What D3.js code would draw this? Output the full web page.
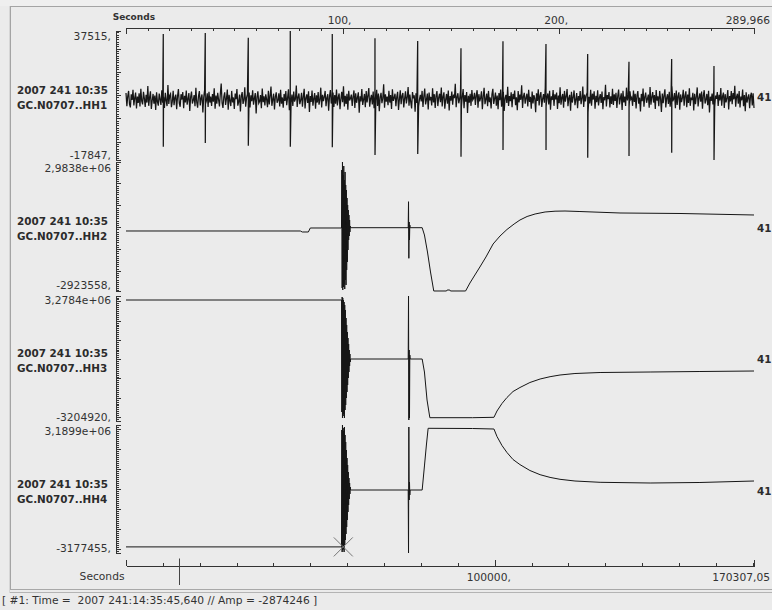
<!DOCTYPE html>
<html><head><meta charset="utf-8">
<script src="https://cdn.jsdelivr.net/npm/d3@7/dist/d3.min.js"></script>
<style>html,body{margin:0;padding:0;background:#ebebeb;}svg{display:block;}</style>
</head><body>
<svg id="chart" width="772" height="610"></svg>
<script>
// ---------------- DATA ----------------
const startLabel = "2007 241 10:35";
const channels = ["GC.N0707..HH1", "GC.N0707..HH2", "GC.N0707..HH3", "GC.N0707..HH4"];
const rightLabels = ["41", "41", "41", "41"];
const ampMax = [37515, 2983800, 3278400, 3189900];
const ampMin = [-17847, -2923558, -3204920, -3177455];
const ampMaxLabels = ["37515,", "2,9838e+06", "3,2784e+06", "3,1899e+06"];
const ampMinLabels = ["-17847,", "-2923558,", "-3204920,", "-3177455,"];
const durationSec = 289.966;
const topTickMajor = [0, 100, 200, 289.966];
const topTickLabels = ["Seconds", "100,", "200,", "289,966"];
const sampleEnd = 170307.05;
const bottomTickMajor = [0, 100000, 170307.05];
const bottomTickLabels = ["Seconds", "100000,", "170307,05"];
const pickMarkSample = 14300;
const cursorTime = 100.33, cursorAmp = -2874246;
const statusText = "[ #1: Time =  2007 241:14:35:45,640 // Amp = -2874246 ]";

// HH1 background noise (counts), evenly spaced over the record
const hh1Noise = [
10900,5200,9600,11800,6100,4700,10300,7900,12300,5600,8800,11100,4300,9400,6600,10800,5100,12700,7400,6000,
11400,8600,4900,10100,6800,13900,5400,9000,11600,4100,7700,10500,6300,9800,3600,11200,7100,5500,10700,8200,
5800,12100,6700,9300,4500,11000,7600,5300,14300,6200,9900,10600,4800,7300,11900,5700,8900,10200,3900,9500,
12600,6500,5000,10400,8100,11300,4400,9700,6900,12000,5900,8400,10900,3200,9200,11500,6400,7800,10000,5200,
13100,7000,4600,9600,11700,5600,8700,10300,2600,9100,12200,6100,7500,10800,4900,11400,6800,9400,5400,10500,
7200,12900,4200,9800,6300,11000,8000,5100,10600,15000,6600,4500,9300,11200,5800,8500,12400,3700,10100,7600,
5300,11800,6900,9000,4100,10700,8300,12600,5500,7100,10200,3000,9600,11300,6200,7900,13400,5000,8800,10400,
6400,11100,4700,9900,7400,12100,5900,8600,10900,2100,9200,11600,6500,7300,10000,4400,12800,7000,9500,5600,
10300,8200,4800,11900,6000,9700,13700,5400,8100,10600,3800,9300,11200,6700,7700,10800,5100,12300,6300,9000,
4600,10500,7500,11700,5700,8900,12500,3500,9800,6900,10200,5300,11500,7200,8400,14100,4900,9100,10700,6100,
7800,11000,5000,9400,12700,4300,8700,10300,6600,11600,2800,9600,7100,12000,5500,8500,10900,4200,9900,6800,
11300,5900,8000,13200,4700,10100,7400,9200,11800,5200,8800,10400,3300,9500,12200,6400,7600,11100,4900,10000,
6300,12400,5600,9000,10700,4000,8300,11400,7000,13800,5100,9700,6200,10600,3700,11900,7700,8600,10200,5400,
9300,12000,4500,10800,6700,8900,11200,2400,9500,7300,12600,5800,8100,10500,4800,11700,6900,9800,13000,5000,
8400,10100,6000,11500,4400,9600,7800,12300,5300,10700,3100,9100,11000,6500,8700,14600,4600,10300,7200,9400,
5700,11900,6800,10000,4100,12500,7500,8800,10600,5200,9300,11400,3600,8200,12100,6100,9700,10900,4700,8500,
11600,6400,9000,13500,5500,10200,7100,4300,11300,8600,9900,2900,10800,6600,12400,5100,8300,10100,7300,11800,
4900,9500,12800,6000,8000,10700,3800,11100,7700,9200,5600,12900,6900,10400,4500,9800,11700,5300,8900,10600,
7000,13300,5100,9400,11200,4200,8100,10500,6300,12000,3400,9600,7600,11500,5900,10200,8700,14900,4800,9100,
10800,6500,8400,11900,5000,9300,12600,4400,10000,7200,11300,2300,9700,6800,10600,5400,12200,7900,8600,11000,
5800,9900,12100,4600,10400,7300,8800,11600,3900,9500,13100,6100,8200,10700,5200,11800,7000,9000,4300,10300,
12700,6200,8500,11100,5500,9800,4000,10900,7800,12400,5000,9200,11400,3200,8700,10100,6600,13600,5300,9600,
7400,11200,4800,10500,8300,12000,5700,9100,3500,11700,6900,10200,8000,14200,4500,9400,11000,6300,8800,10600,
5100,12300,7100,9300,4200,11500,6400,10000,8600,2700,10800,7500,12500,5600,9700,11300,4900,8400,10400,6700,
13000,5300,9000,10700,6000,11900,3700,9500,7900,12200,5400,10300,8200,11100,4100,9800,6500,13400,5900,8900,
10500,4600,11800,7200,9400,12600,5200,8700,10100,3300,11400,6800,9100,12000,5700,8000,10900,4400,9600,7600,
11700,6100,8500,13700,4900,10200,7300,9900,11200,2500,9300,6400,12300,5500,10600,8100,11600,4200,9700,7000,
12100,5600,8800,10400,6600,11500,3900,9200,7800,14400,5100,10000,8300,11300,4700,9500,6200,12700,5800,10300,
7500,11000,4500,9600,12400,6000,8600,10800,3600,11900,6900,9400,5300,13200,7700,10100,4800,11600,8200,9000,
5400,12000,7100,10600,4300,9800,11700,6300,8900,3000,10500,7400,12800,5000,9300,11100,6700,8400,10200,4600,
13500,5900,9100,11300,6800,10000,4100,12200,7600,9500,5200,11800,8500,2800,10700,6500,9900,12500,4700,8700,
10400,6200,11400,5000,9200,13800,7300,8300,10900,4400,12000,5800,9600,11200,3700,10300,7000,8800,12300,5500,
9700,11600,4800,10200,6600,12900,5400,9000,7900,11000,3400,10600,6100,9400,13300,5100,8600,10800,7200,11500,
4200,9900,12100,6400,8100,10500,5700,11900,2600,9300,7500,10700,6000,12600,4900,9800,8400,11300,5300,10100,
7700,13000,5500,9500,11100,4500,10400,6900,8800,12200,3800,9600,7300,11700,6100,10900,8200,14000,5000,9200,
10600,6300,11800,4700,9400,7800,12400,5200,10000,3100,11200,6800,8900,10300,4400,9700,11000,5600,10800,4500
];
// HH1 periodic spikes: time (s), peak, trough (counts)
const hh1SpikeTime = [17.22, 36.61, 56.47, 75.86, 95.25, 114.97, 134.69, 154.68, 174.07, 193.93, 213.18, 232.25, 251.96, 271.5];
const hh1SpikeTop = [36227, 36657, 34639, 37515, 36227, 34382, 33223, 30090, 33094, 31935, 27643, 24339, 25497, 22493];
const hh1SpikeBottom = [-12143, -10555, -11714, -12143, -12400, -15706, -15277, -16435, -13560, -13560, -16864, -16135, -14719, -17847];

// HH2: [time s, counts]
const hh2 = [
[0,-175900],[80.5,-175900],[81.4,-221700],[84.2,-221700],[85.1,-38500],[99.5,-38500],
[99.65,2617500],[99.8,-2786100],[99.95,2983800],[100.1,-2877700],[100.25,2388500],[100.4,-2740300],
[100.55,2800600],[100.7,-2602900],[100.85,2159500],[101.0,-2831900],[101.15,2525900],[101.3,-2419800],
[101.45,1930600],[101.6,-2648700],[101.75,1701600],[101.9,-1961800],[102.05,1335300],[102.2,-1595500],
[102.35,1014700],[102.5,-1046100],[102.65,785700],[102.8,-588100],[102.95,556800],[103.1,-404900],
[103.25,327800],[103.4,-221700],[103.55,53000],[103.7,-24800],
[130.3,-24800],[130.45,1165800],[130.6,-1426100],[130.75,236200],[130.9,-588100],[131.05,98800],[131.2,-24800],
[136.75,-24800],[137.8,-359100],[139.2,-1137600],[140.6,-2053400],[142.1,-2923500],
[148.0,-2923500],[148.3,-2877700],[149.5,-2877700],[149.8,-2923500],
[156.8,-2923500],[158.8,-2557200],[161.1,-2190800],[163.4,-1824500],[166.2,-1366500],[169.5,-771200],
[172.7,-404900],[175.9,-107200],[179.2,144600],[181.9,327800],[185.2,488100],[188.9,602600],
[193.5,694200],[198.1,730800],[202.7,739900],[209.6,716000],[228.1,648400],[255.8,625500],[289.97,556800]
];
// HH3: [time s, counts]
const hh3 = [
[0,3070900],[99.5,3070900],
[99.65,-2738200],[99.8,3226500],[99.95,-3049400],[100.1,3174700],[100.25,-2945600],[100.4,3070900],
[100.55,-2841900],[100.7,2967200],[100.85,-3049400],[101.0,2811600],[101.15,-2634400],[101.3,2552300],
[101.45,-2375100],[101.6,2137300],[101.75,-2012000],[101.9,1774300],[102.05,-1700800],[102.2,1411200],
[102.35,-1337800],[102.5,1100000],[102.65,-974700],[102.8,788800],[102.95,-663500],[103.1,477600],
[103.25,-352300],[103.4,270100],[103.55,-144800],[103.7,10800],
[130.3,10800],[130.45,3278400],[130.6,-3153100],[130.75,477600],[130.9,-3049400],[131.05,218200],[131.2,10800],
[136.75,10800],[137.8,-663500],[139.0,-2115800],[140.3,-3033800],
[160.0,-3033800],[169.9,-3013100],[171.3,-2686300],[173.6,-2297300],[175.9,-1986100],[178.7,-1674900],
[181.9,-1467400],[186.5,-1208100],[191.2,-1026600],[195.8,-907300],[200.4,-819100],[207.3,-741300],
[218.9,-689400],[242.0,-663500],[265.0,-637600],[289.97,-611600]
];
// HH4: [time s, counts]
const hh4 = [
[0,-2874246],[99.5,-2874246],
[99.65,2941200],[99.8,-3127700],[99.95,3189900],[100.1,-3028200],[100.25,3040700],[100.4,-2978500],
[100.55,2891400],[100.7,-3127700],[100.85,3090400],[101.0,-2779500],[101.15,2692500],[101.3,-2530800],
[101.45,2344200],[101.6,-2232300],[101.75,1946300],[101.9,-1884100],[102.05,1548300],[102.2,-1535900],
[102.35,1200100],[102.5,-1137900],[102.65,851900],[102.8,-789700],[102.95,553400],[103.1,-491200],
[103.25,304700],[103.4,-242500],[103.55,105700],[103.7,-43500],
[130.3,-43500],[130.45,-3177455],[130.6,3090400],[130.75,-541000],[130.9,354400],[131.05,-292300],[131.2,-43500],
[136.75,-43500],[137.8,1151400],[138.7,2195000],[139.5,3025700],
[160.0,3015800],[169.9,2990900],[171.3,2617800],[173.6,2170100],[175.9,1821900],[178.7,1473700],
[181.9,1220000],[186.5,926500],[191.2,717600],[195.8,583300],[200.4,488700],[207.3,404200],
[218.9,339500],[242.0,304700],[265.0,329600],[289.97,404200]
];

// ---------------- LAYOUT ----------------
const X0 = 126, X1 = 754;
const panelTop = [31, 162, 296, 425];
const panelBottom = [160, 291, 421, 553];
const maxLabelY = [40, 172, 304, 435];
const minLabelY = [159, 289, 420.5, 551.5];
const nameY = [94, 225, 356.5, 487.5];
const rightLabelY = [101, 232, 363, 495];
const traceWidth = [1.25, 1, 1, 1];
const FONT = "DejaVu Sans, Verdana, sans-serif";
const TXT = "#333";

const svg = d3.select("#chart").style("font-family", FONT);
svg.append("rect").attr("width", 772).attr("height", 610).attr("fill", "#ebebeb");
svg.append("rect").attr("width", 772).attr("height", 6).attr("fill", "#efefef");

// frame
svg.append("line").attr("x1", 10).attr("x2", 772).attr("y1", 6.5).attr("y2", 6.5).attr("stroke", "#a4a4a4");
svg.append("line").attr("x1", 9.5).attr("x2", 9.5).attr("y1", 6).attr("y2", 593).attr("stroke", "#d6d6d6");
svg.append("line").attr("x1", 10.5).attr("x2", 10.5).attr("y1", 6).attr("y2", 590).attr("stroke", "#a4a4a4");
svg.append("line").attr("x1", 10).attr("x2", 772).attr("y1", 589.5).attr("y2", 589.5).attr("stroke", "#a8a8a8");
svg.append("line").attr("x1", 10).attr("x2", 772).attr("y1", 592.5).attr("y2", 592.5).attr("stroke", "#b4b4b4");

const x = d3.scaleLinear().domain([0, durationSec]).range([X0, X1]);
const xs = d3.scaleLinear().domain([0, sampleEnd]).range([X0, X1]);

// ---- top time axis ----
const gt = svg.append("g").attr("transform", "translate(0,27.5)").attr("color", "#333").attr("shape-rendering", "crispEdges");
gt.call(d3.axisBottom(x).tickValues(d3.range(0, durationSec, 10)).tickSize(3).tickSizeOuter(0).tickFormat(""));
const gt2 = svg.append("g").attr("transform", "translate(0,27.5)").attr("color", "#333").attr("shape-rendering", "crispEdges");
gt2.call(d3.axisBottom(x).tickValues(topTickMajor).tickSize(6).tickFormat(""));
gt2.select(".domain").remove();
svg.append("text").attr("x", 112.7).attr("y", 20).attr("font-size", 9).attr("font-weight", "bold")
  .attr("fill", TXT).text(topTickLabels[0]);
[1, 2].forEach(i => svg.append("text").attr("x", x(topTickMajor[i]) - 3).attr("y", 24)
  .attr("text-anchor", "middle").attr("font-size", 10.7).attr("fill", TXT).text(topTickLabels[i]));
svg.append("text").attr("x", 770).attr("y", 24).attr("text-anchor", "end").attr("font-size", 10.7)
  .attr("fill", TXT).text(topTickLabels[3]);

// ---- bottom sample axis ----
const gb = svg.append("g").attr("transform", "translate(0,565.5)").attr("color", "#333").attr("shape-rendering", "crispEdges");
gb.call(d3.axisTop(xs).tickValues(d3.range(0, sampleEnd, 10000)).tickSize(3).tickSizeOuter(0).tickFormat(""));
const gb2 = svg.append("g").attr("transform", "translate(0,565.5)").attr("color", "#333").attr("shape-rendering", "crispEdges");
gb2.call(d3.axisTop(xs).tickValues(bottomTickMajor).tickSize(6).tickFormat(""));
gb2.select(".domain").remove();
svg.append("text").attr("x", 124.5).attr("y", 580).attr("text-anchor", "end").attr("font-size", 10.7)
  .attr("fill", TXT).text(bottomTickLabels[0]);
svg.append("text").attr("x", xs(bottomTickMajor[1]) - 6).attr("y", 581).attr("text-anchor", "middle")
  .attr("font-size", 10.7).attr("fill", TXT).text(bottomTickLabels[1]);
svg.append("text").attr("x", 770).attr("y", 581).attr("text-anchor", "end").attr("font-size", 10.7)
  .attr("fill", TXT).text(bottomTickLabels[2]);
svg.append("line").attr("x1", Math.round(xs(pickMarkSample)) + 0.5).attr("x2", Math.round(xs(pickMarkSample)) + 0.5)
  .attr("y1", 558.5).attr("y2", 585).attr("stroke", "#444");

// ---- traces ----
const hh1Pts = hh1Noise.map((v, i) => [i * durationSec / (hh1Noise.length - 1), v]);
hh1SpikeTime.forEach((t, i) => { hh1Pts.push([t - 0.01, hh1SpikeTop[i]]); hh1Pts.push([t + 0.01, hh1SpikeBottom[i]]); });
hh1Pts.sort((a, b) => a[0] - b[0]);
const traces = [hh1Pts, hh2, hh3, hh4];

const scalesY = [];
traces.forEach((data, k) => {
  const y = d3.scaleLinear().domain([ampMin[k], ampMax[k]]).range([panelBottom[k], panelTop[k]]);
  scalesY.push(y);
  // left amplitude axis (ruler)
  const ga = svg.append("g").attr("transform", "translate(115.5,0)").attr("color", "#333").attr("shape-rendering", "crispEdges");
  ga.call(d3.axisRight(y).tickValues(y.ticks(55)).tickSize(3).tickSizeOuter(5).tickFormat(""));
  const ga2 = svg.append("g").attr("transform", "translate(115.5,0)").attr("color", "#333").attr("shape-rendering", "crispEdges");
  ga2.call(d3.axisRight(y).ticks(5).tickSize(5).tickFormat(""));
  ga2.select(".domain").remove();
  svg.append("text").attr("x", 111).attr("y", maxLabelY[k]).attr("text-anchor", "end")
    .attr("font-size", 10.7).attr("fill", TXT).text(ampMaxLabels[k]);
  svg.append("text").attr("x", 111).attr("y", minLabelY[k]).attr("text-anchor", "end")
    .attr("font-size", 10.7).attr("fill", TXT).text(ampMinLabels[k]);
  svg.append("text").attr("x", 17).attr("y", nameY[k]).attr("font-size", 10.4).attr("font-weight", "bold")
    .attr("fill", "#2b2b2b").text(startLabel);
  svg.append("text").attr("x", 17).attr("y", nameY[k] + 15).attr("font-size", 10.4).attr("font-weight", "bold")
    .attr("fill", "#2b2b2b").text(channels[k]);
  svg.append("text").attr("x", 757).attr("y", rightLabelY[k]).attr("font-size", 10.4).attr("font-weight", "bold")
    .attr("fill", "#2b2b2b").text(rightLabels[k]);

  const line = d3.line().x(d => x(d[0])).y(d => y(d[1]));
  svg.append("path").datum(data).attr("d", line).attr("fill", "none")
    .attr("stroke", "#161616").attr("stroke-width", traceWidth[k]).attr("stroke-linejoin", "miter");
});

// cursor cross on HH4
const cx = x(cursorTime), cy = scalesY[3](cursorAmp);
svg.append("path").attr("d", `M${cx - 9.5},${cy - 9.5}L${cx + 9.5},${cy + 9.5}M${cx - 9.5},${cy + 9.5}L${cx + 9.5},${cy - 9.5}`)
  .attr("stroke", "#777").attr("stroke-width", 1).attr("fill", "none");

// status bar
svg.append("text").attr("x", 2).attr("y", 604).attr("font-size", 10.7).attr("fill", TXT)
  .attr("xml:space", "preserve").style("white-space", "pre").text(statusText);
</script>
</body></html>
